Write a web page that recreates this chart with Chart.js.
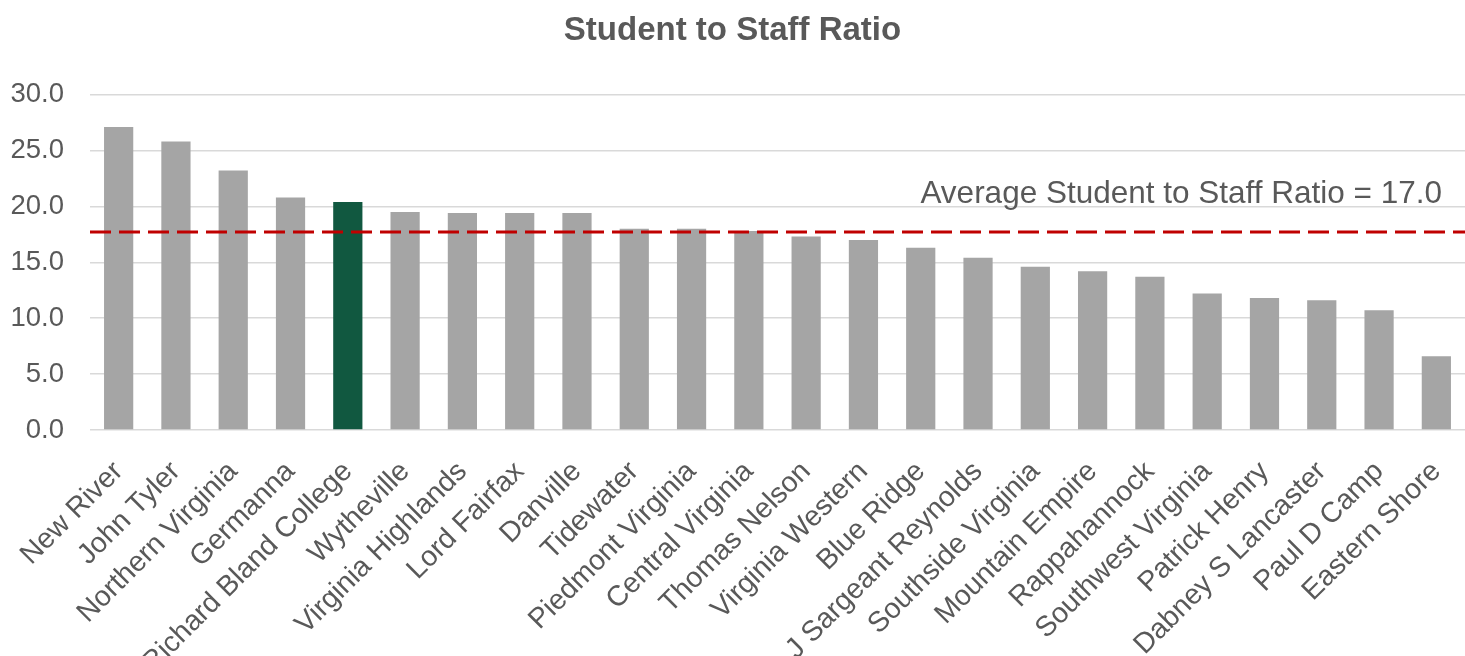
<!DOCTYPE html>
<html>
<head>
<meta charset="utf-8">
<script src="https://cdn.jsdelivr.net/npm/chart.js@4.4.0/dist/chart.umd.min.js"></script>
<style>
  html, body { margin: 0; padding: 0; background: #fff; }
  #contenedorChart { width: 1465px; height: 656px; }
</style>
</head>
<body>
<div id="contenedorChart"><canvas id="myChart"></canvas></div>
<script>
// datos
const colegios = ["New River", "John Tyler", "Northern Virginia", "Germanna", "Richard Bland College",
  "Wytheville", "Virginia Highlands", "Lord Fairfax", "Danville", "Tidewater", "Piedmont Virginia",
  "Central Virginia", "Thomas Nelson", "Virginia Western", "Blue Ridge", "J Sargeant Reynolds",
  "Southside Virginia", "Mountain Empire", "Rappahannock", "Southwest Virginia", "Patrick Henry",
  "Dabney S Lancaster", "Paul D Camp", "Eastern Shore"];
const ratios = [27.1, 25.8, 23.2, 20.8, 20.4, 19.5, 19.4, 19.4, 19.4, 18.0, 18.0, 17.8, 17.3, 17.0,
  16.3, 15.4, 14.6, 14.2, 13.7, 12.2, 11.8, 11.6, 10.7, 6.6];
const destacado = "Richard Bland College";
const promedioLinea = 17.7;
const promedioTexto = "Average Student to Staff Ratio = 17.0";
const yTicks = [0, 5, 10, 15, 20, 25, 30];

const gris = "#a5a5a5";
const verde = "#115840";
const textoColor = "#595959";
const fuente = "'Liberation Sans', Arial, sans-serif";

const coloresBarras = colegios.map((c) => (c === destacado ? verde : gris));

// linea de promedio + texto
const lineaPromedio = {
  id: "lineaPromedio",
  afterDatasetsDraw(chart) {
    const ctx = chart.ctx;
    const area = chart.chartArea;
    const y = chart.scales.y.getPixelForValue(promedioLinea);
    ctx.save();
    ctx.strokeStyle = "#c00000";
    ctx.lineWidth = 3;
    ctx.setLineDash([21, 8]);
    ctx.beginPath();
    ctx.moveTo(area.left, y);
    ctx.lineTo(area.right, y);
    ctx.stroke();
    ctx.setLineDash([]);
    ctx.fillStyle = textoColor;
    ctx.font = "31.5px " + fuente;
    ctx.textAlign = "right";
    ctx.textBaseline = "alphabetic";
    ctx.fillText(promedioTexto, area.right - 23, y - 29);
    ctx.restore();
  },
};

const config = {
  type: "bar",
  data: {
    labels: colegios,
    datasets: [
      {
        label: "Student to Staff Ratio",
        data: ratios,
        backgroundColor: coloresBarras,
        borderWidth: 0,
        barPercentage: 0.51,
        categoryPercentage: 1.0,
      },
    ],
  },
  plugins: [lineaPromedio],
  options: {
    responsive: true,
    maintainAspectRatio: false,
    animation: false,
    layout: { padding: { left: 0, right: 0, top: 0, bottom: 0 } },
    plugins: {
      legend: { display: false },
      tooltip: { enabled: false },
      title: {
        display: true,
        text: "Student to Staff Ratio",
        color: textoColor,
        font: { family: fuente, size: 33, weight: "bold" },
        padding: { top: 11, bottom: 44 },
      },
    },
    scales: {
      x: {
        grid: { display: false, drawTicks: false },
        border: { display: false },
        ticks: {
          color: textoColor,
          font: { family: fuente, size: 28.5 },
          minRotation: 45,
          maxRotation: 45,
          autoSkip: false,
          padding: 25,
        },
        afterFit: (scale) => {
          scale.height = 226;
          scale.paddingLeft = 0;
          scale.paddingRight = 0;
        },
      },
      y: {
        min: 0,
        max: 30,
        afterBuildTicks: (scale) => {
          scale.ticks = yTicks.map((v) => ({ value: v }));
        },
        grid: { color: "#d9d9d9", lineWidth: 1.5, drawTicks: false },
        border: { display: false },
        ticks: {
          color: textoColor,
          font: { family: fuente, size: 27.5 },
          padding: 26,
          callback: (v) => Number(v).toFixed(1),
        },
        afterFit: (scale) => {
          scale.width = 90;
          scale.paddingTop = 0;
          scale.paddingBottom = 0;
        },
      },
    },
  },
};

const myChart = new Chart(document.getElementById("myChart"), config);
</script>
</body>
</html>
